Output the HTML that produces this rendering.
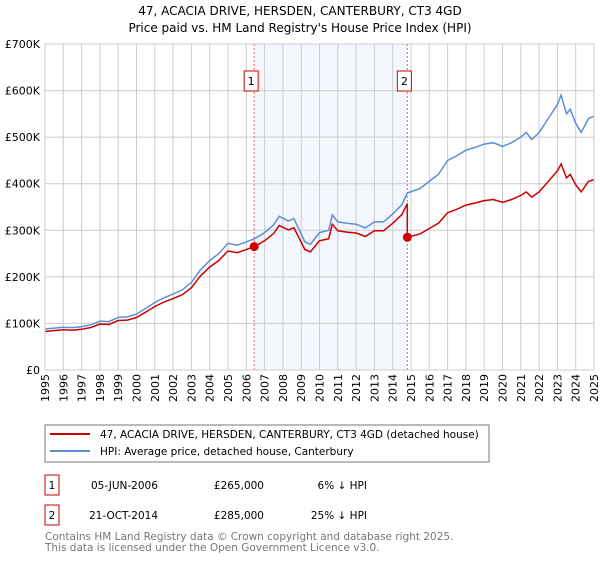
<!DOCTYPE html>
<html><head><meta charset="utf-8"><style>
body{margin:0;background:#fff;font-family:"DejaVu Sans","Liberation Sans",sans-serif;}
svg text{font-family:"DejaVu Sans","Liberation Sans",sans-serif;}
</style></head><body>
<svg id="c" width="600" height="560" xmlns="http://www.w3.org/2000/svg">
<text x="300" y="15" text-anchor="middle" font-size="12">47, ACACIA DRIVE, HERSDEN, CANTERBURY, CT3 4GD</text>
<text x="300" y="32" text-anchor="middle" font-size="12">Price paid vs. HM Land Registry's House Price Index (HPI)</text>
<g id="plot"></g>
<rect x="45" y="425" width="444" height="37" fill="#fff" stroke="#777"/>
<line x1="50" y1="434" x2="90" y2="434" stroke="#cc0000" stroke-width="2"/>
<text x="100" y="438" font-size="10.5">47, ACACIA DRIVE, HERSDEN, CANTERBURY, CT3 4GD (detached house)</text>
<line x1="50" y1="451" x2="90" y2="451" stroke="#5b8fd4" stroke-width="2"/>
<text x="100" y="455" font-size="10.5">HPI: Average price, detached house, Canterbury</text>
<g>
<rect x="45" y="475" width="14" height="20" fill="#fff" stroke="#cc0000"/>
<text x="52" y="489" font-size="10.5" text-anchor="middle">1</text>
<text x="91" y="489" font-size="10.5">05-JUN-2006</text>
<text x="264" y="489" font-size="10.5" text-anchor="end">£265,000</text>
<text x="367" y="489" font-size="10.5" text-anchor="end">6% ↓ HPI</text>
</g>
<g>
<rect x="45" y="505" width="14" height="20" fill="#fff" stroke="#cc0000"/>
<text x="52" y="519" font-size="10.5" text-anchor="middle">2</text>
<text x="89" y="519" font-size="10.5">21-OCT-2014</text>
<text x="264" y="519" font-size="10.5" text-anchor="end">£285,000</text>
<text x="367" y="519" font-size="10.5" text-anchor="end">25% ↓ HPI</text>
</g>
<text x="45" y="540" font-size="10.5" fill="#777">Contains HM Land Registry data © Crown copyright and database right 2025.</text>
<text x="45" y="551" font-size="10.5" fill="#777">This data is licensed under the Open Government Licence v3.0.</text>
</svg>
<script>
const hpiYears=[1995,1995.5,1996,1996.5,1997,1997.5,1998,1998.5,1999,1999.5,2000,2000.5,2001,2001.5,2002,2002.5,2003,2003.5,2004,2004.5,2005,2005.5,2006,2006.5,2007,2007.5,2007.8,2008.3,2008.6,2009.2,2009.5,2010,2010.5,2010.7,2011,2011.5,2012,2012.5,2013,2013.5,2014,2014.5,2014.8,2015.5,2016,2016.5,2017,2017.5,2018,2018.5,2019,2019.5,2020,2020.5,2021,2021.3,2021.6,2022,2022.5,2023,2023.2,2023.5,2023.7,2024,2024.3,2024.7,2025];
const hpiValues=[88,90,92,91,93,97,105,104,113,114,120,132,145,155,163,172,188,215,235,250,272,268,275,283,295,312,330,320,325,275,270,295,300,333,318,315,313,305,318,318,335,355,380,390,405,420,450,460,472,478,485,488,480,488,500,510,495,510,540,570,590,550,560,530,510,540,545];
const saleDates=[2006.43,2014.8];
const salePrices=[265,285];
const yTicks=[0,100,200,300,400,500,600,700];
const yTickLabels=["£0","£100K","£200K","£300K","£400K","£500K","£600K","£700K"];
const xTicks=[1995,1996,1997,1998,1999,2000,2001,2002,2003,2004,2005,2006,2007,2008,2009,2010,2011,2012,2013,2014,2015,2016,2017,2018,2019,2020,2021,2022,2023,2024,2025];

const X0=45,X1=594,Y0=370,Y1=44;
const xs=t=>X0+(t-1995)/30*(X1-X0);
const ys=v=>Y0-v/700*(Y0-Y1);
const NS="http://www.w3.org/2000/svg";
const g=document.getElementById('plot');
function mk(tag,attrs,parent){const e=document.createElementNS(NS,tag);for(const k in attrs)e.setAttribute(k,attrs[k]);(parent||g).appendChild(e);return e;}
function hpiAt(t){for(let i=0;i<hpiYears.length-1;i++){if(t<=hpiYears[i+1]){const f=(t-hpiYears[i])/(hpiYears[i+1]-hpiYears[i]);return hpiValues[i]+f*(hpiValues[i+1]-hpiValues[i]);}}return hpiValues[hpiValues.length-1];}

let r=mk('rect',{x:xs(saleDates[0]),y:Y1,width:xs(saleDates[1])-xs(saleDates[0]),height:Y0-Y1,fill:'#f3f6fd'});


xTicks.forEach((t,i)=>{
  let l=mk('line',{x1:xs(t),x2:xs(t),y1:Y1,y2:Y0,stroke:'#ccc'});
  
  
  let tx=mk('text',{x:0,y:0,'font-size':11,'text-anchor':'end',transform:`translate(${xs(t)+4},${Y0+4}) rotate(-90)`});
  tx.textContent=t;
  
  
});
yTicks.forEach((v,i)=>{
  let l=mk('line',{x1:X0,x2:X1,y1:ys(v),y2:ys(v),stroke:'#ccc'});
  
  
  let tx=mk('text',{x:40,y:ys(v)+4,'font-size':11,'text-anchor':'end'});
  tx.textContent=yTickLabels[i];
  
  
});
saleDates.forEach((d,i)=>{
  let l=mk('line',{x1:xs(d),x2:xs(d),y1:Y1,y2:Y0,stroke:'#f06060','stroke-dasharray':'2,2'});
  
  
  let b=mk('rect',{x:xs(d)-10,y:71,width:14,height:20,fill:'#fff',stroke:'#cc0000'});
  
  
  let tx=mk('text',{x:xs(d)-3,y:85,'font-size':11,'text-anchor':'middle'});
  tx.textContent=String(i+1);
  
  
});
let hp=hpiYears.map((t,i)=>`${xs(t).toFixed(1)},${ys(hpiValues[i]).toFixed(1)}`).join(' ');
let hl=mk('polyline',{points:hp,fill:'none',stroke:'#5b8fd4','stroke-width':1.5});


let pts=[];
const r1=salePrices[0]/hpiAt(saleDates[0]), r2=salePrices[1]/hpiAt(saleDates[1]);
hpiYears.forEach((t,i)=>{ if(t<saleDates[1]) pts.push([t,hpiValues[i]*r1]); });
pts.push([saleDates[1],hpiAt(saleDates[1])*r1]);
pts.push([saleDates[1],salePrices[1]]);
hpiYears.forEach((t,i)=>{ if(t>saleDates[1]) pts.push([t,hpiValues[i]*r2]); });
let pl=mk('polyline',{points:pts.map(p=>`${xs(p[0]).toFixed(1)},${ys(p[1]).toFixed(1)}`).join(' '),fill:'none',stroke:'#cc0000','stroke-width':1.5});


saleDates.forEach((d,i)=>{
  let c=mk('circle',{cx:xs(d),cy:ys(salePrices[i]),r:4.5,fill:'#cc0000'});
  
  
});
let ax=mk('rect',{x:X0,y:Y1,width:X1-X0,height:Y0-Y1,fill:'none',stroke:'#ccc'});


</script>
</body></html>
